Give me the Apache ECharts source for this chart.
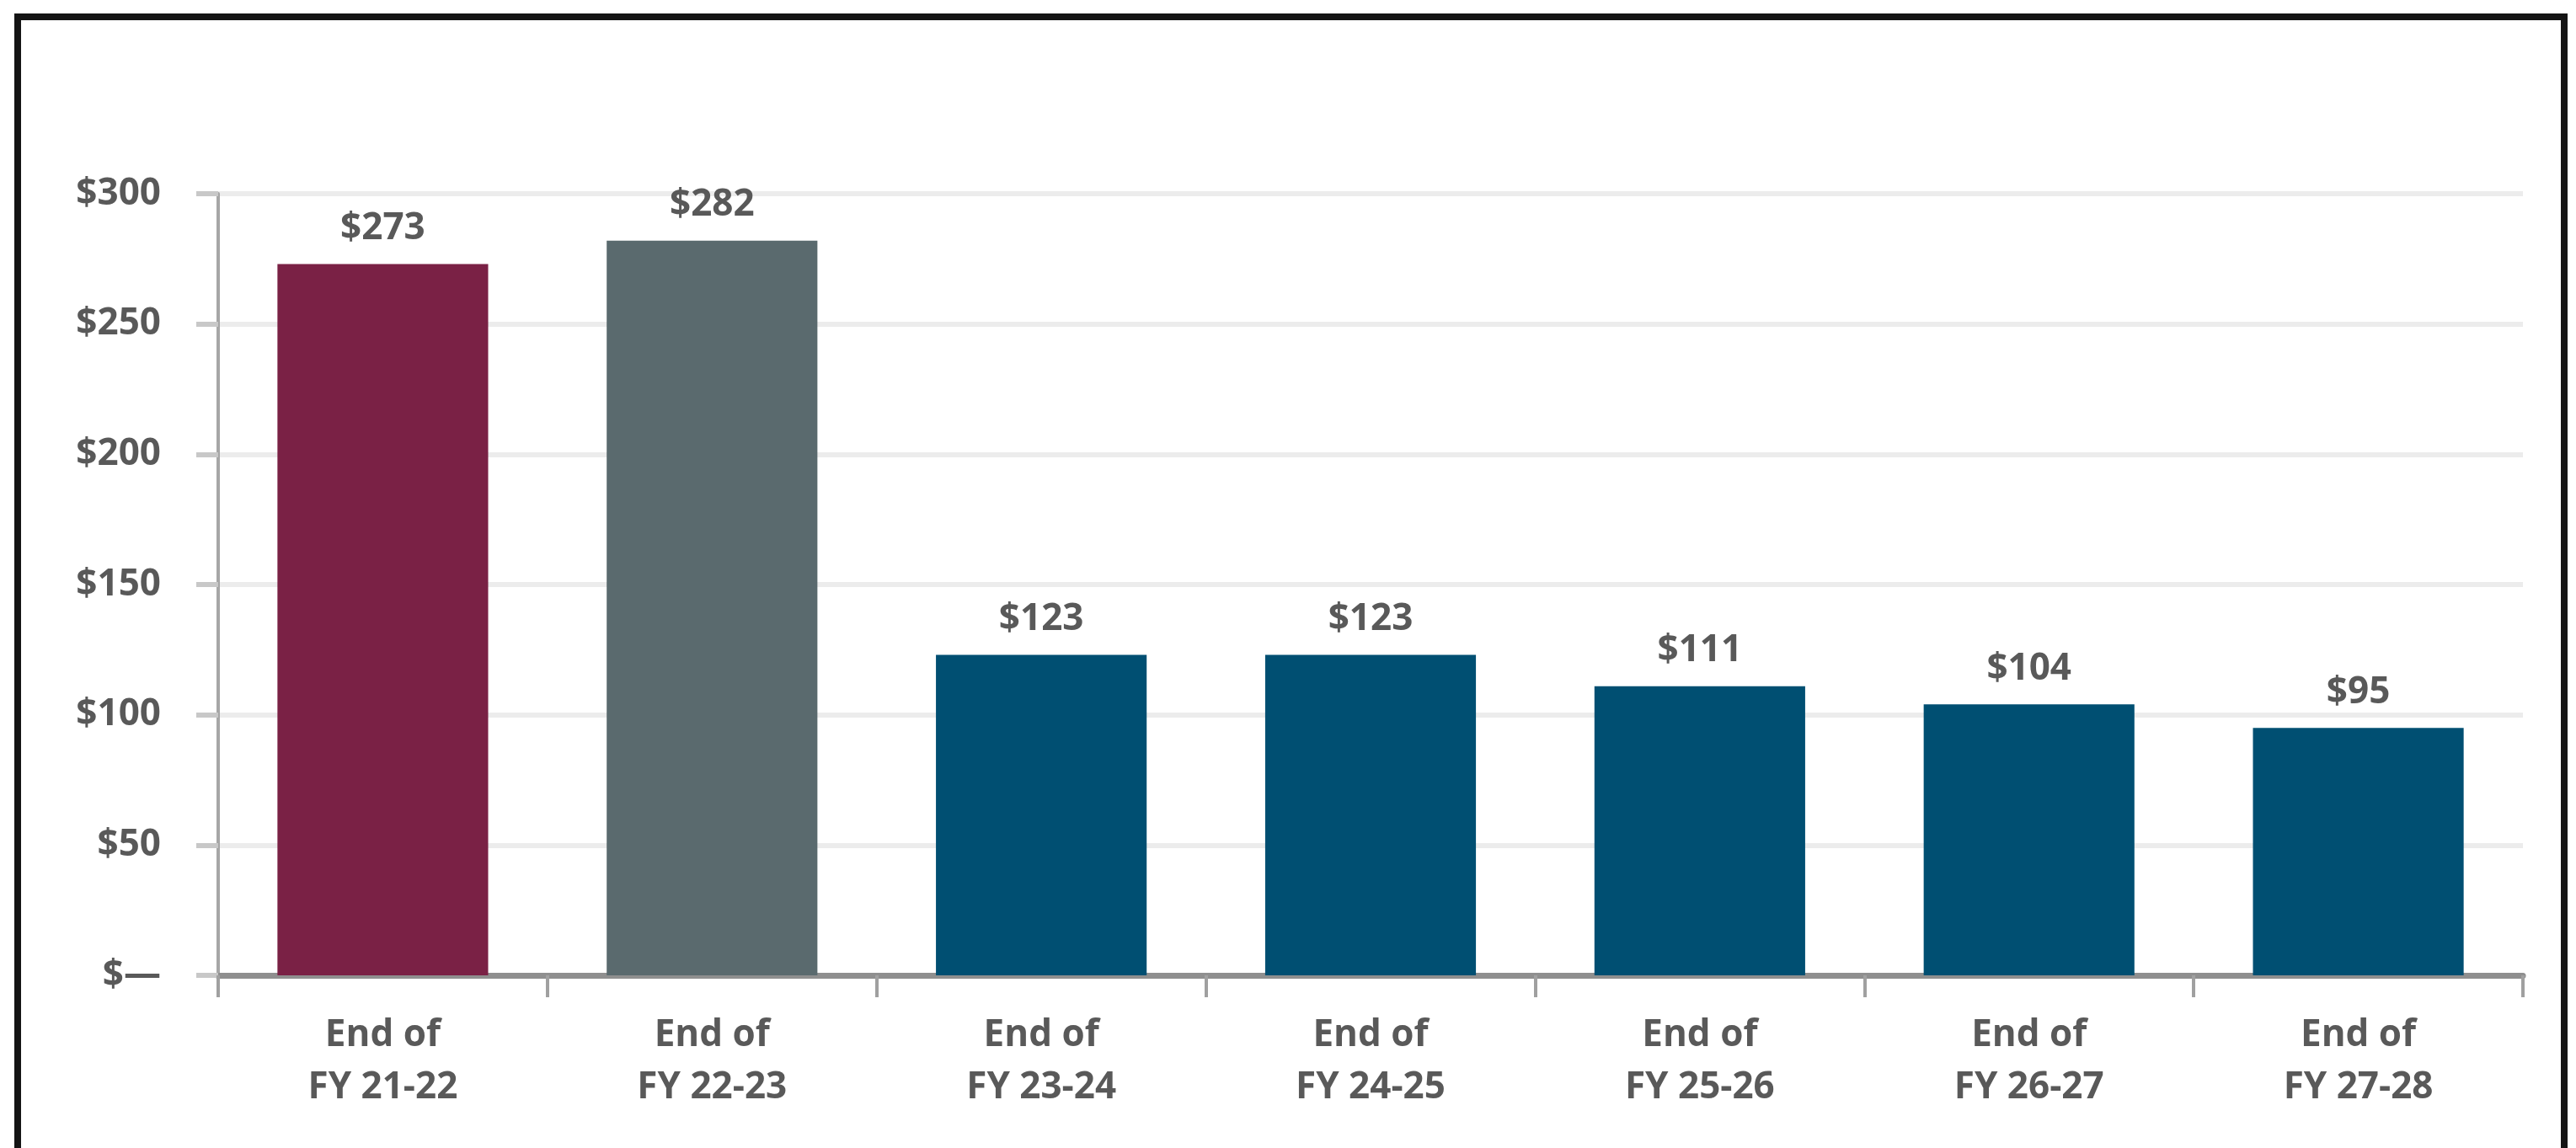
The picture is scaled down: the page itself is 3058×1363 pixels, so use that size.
<!DOCTYPE html>
<html>
<head>
<meta charset="utf-8">
<script src="https://cdn.jsdelivr.net/npm/echarts@6/dist/echarts.min.js"></script>
<style>
  html, body { margin: 0; padding: 0; background: #ffffff; }
  #chart { position: absolute; left: 0; top: 0; width: 3058px; height: 1363px; }
  #frame { position: absolute; left: 17px; top: 16px; width: 3015px; height: 1400px;
           border: 8px solid #141414; border-bottom: none; box-sizing: content-box; pointer-events: none; }
</style>
</head>
<body>
<div id="chart"></div>
<div id="frame"></div>
<script>
const categories = ['End of\nFY 21-22', 'End of\nFY 22-23', 'End of\nFY 23-24', 'End of\nFY 24-25', 'End of\nFY 25-26', 'End of\nFY 26-27', 'End of\nFY 27-28'];
const values = [273, 282, 123, 123, 111, 104, 95];
const barColors = ['#7a2145', '#5a6a6e', '#004f72', '#004f72', '#004f72', '#004f72', '#004f72'];
const yTicks = [0, 50, 100, 150, 200, 250, 300];

const textColor = '#595959';
const fontFamily = '"Open Sans", "Liberation Sans", sans-serif';

const chart = echarts.init(document.getElementById('chart'), null, { renderer: 'canvas' });
chart.setOption({
  animation: false,
  backgroundColor: '#ffffff',
  grid: { left: 259, right: 63, top: 230, bottom: 205, containLabel: false },
  xAxis: {
    type: 'category',
    data: categories,
    axisLine: { show: true, lineStyle: { color: '#8f8f8f', width: 7 } },
    axisTick: { show: true, length: 26, interval: 0, alignWithLabel: false, lineStyle: { color: '#a0a0a0', width: 4 } },
    axisLabel: {
      interval: 0, margin: 40, color: textColor, fontFamily: fontFamily,
      fontSize: 44, fontWeight: 'bold', lineHeight: 62, align: 'center'
    },
    splitLine: { show: false }
  },
  yAxis: {
    type: 'value',
    min: yTicks[0],
    max: yTicks[yTicks.length - 1],
    interval: 50,
    axisLine: { show: true, lineStyle: { color: '#a6a6a6', width: 4 } },
    axisTick: { show: true, length: 26, lineStyle: { color: '#c8c8c8', width: 6 } },
    axisLabel: {
      margin: 68, color: textColor, fontFamily: fontFamily, fontSize: 44, fontWeight: 'bold',
      formatter: function (v) { return v === 0 ? '$\u2014' : '$' + v; }
    },
    splitLine: { show: true, lineStyle: { color: '#ececec', width: 6 } }
  },
  series: [{
    type: 'bar',
    data: values.map(function (v, i) { return { value: v, itemStyle: { color: barColors[i] } }; }),
    barCategoryGap: '36%',
    label: {
      show: true, position: 'top', distance: 20, color: textColor, fontFamily: fontFamily,
      fontSize: 44, fontWeight: 'bold',
      formatter: function (p) { return '$' + p.value; }
    }
  }]
});
</script>
</body>
</html>
